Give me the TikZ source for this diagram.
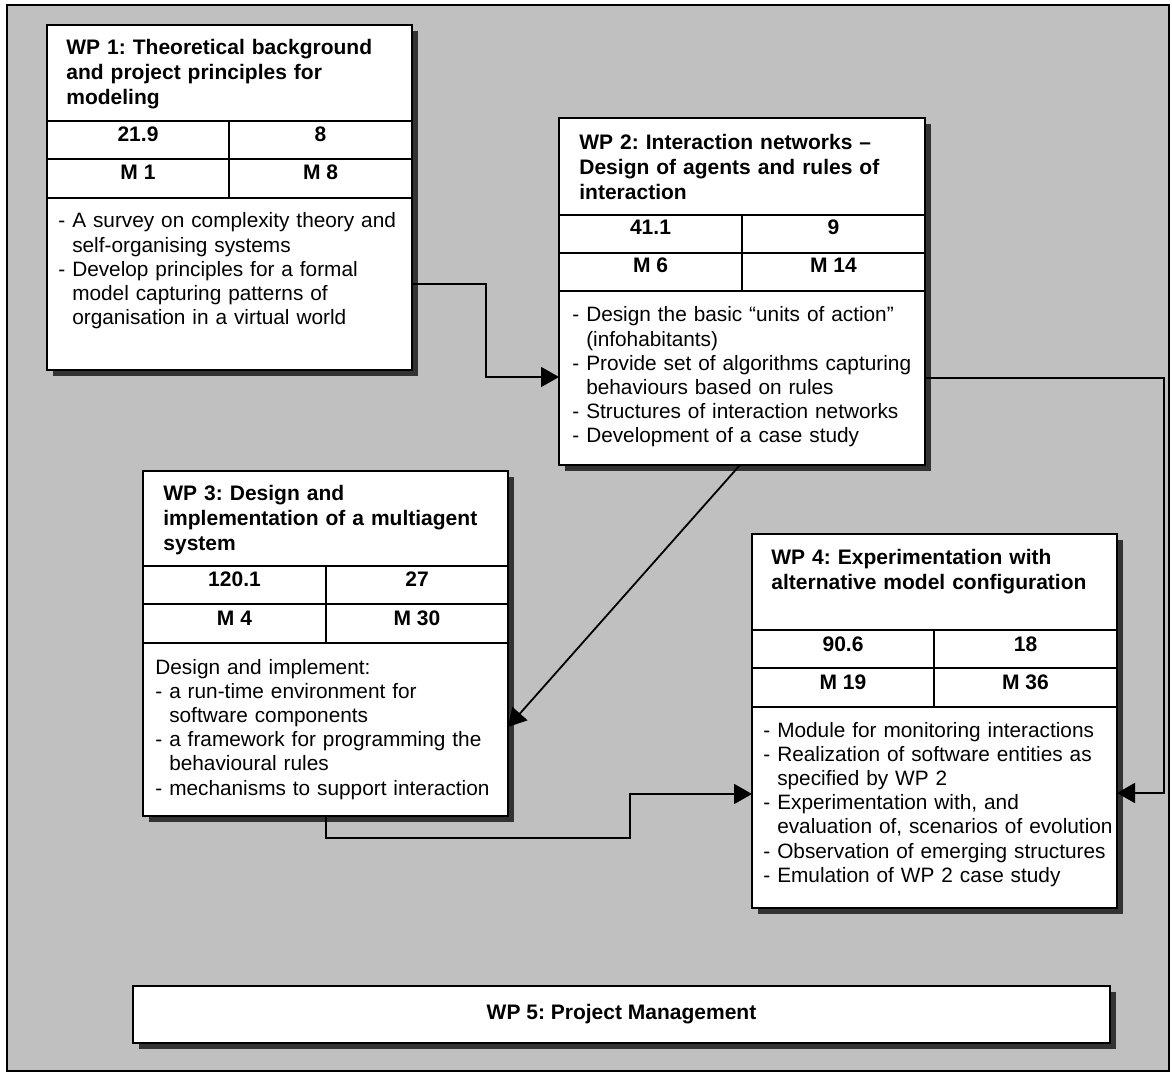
\documentclass[tikz,border=0pt]{standalone}
\usepackage{fontspec}
\setmainfont{Liberation Sans}
\usetikzlibrary{arrows.meta,shadows}
\newcommand\hang{\hphantom{- }}
\definecolor{panelgray}{HTML}{C0C0C0}
\frenchspacing
\begin{document}
\begin{tikzpicture}[x=0.5pt,y=-0.5pt,
  wpbox/.style={draw=black, line width=1pt, fill=white, inner sep=0pt, outer sep=0pt,
    anchor=north west,
    drop shadow={shadow xshift=3pt, shadow yshift=-3pt, fill=black!80, opacity=1}},
  rule/.style={line width=1pt},
  titletext/.style={anchor=base west, inner sep=0pt, text width=185pt, align=left,
    font=\fontsize{10.5pt}{12.4pt}\selectfont\bfseries},
  bodytext/.style={anchor=base west, inner sep=0pt, text width=185pt, align=left,
    font=\fontsize{10.4pt}{12.1pt}\selectfont},
  celltext/.style={anchor=base, inner sep=0pt, font=\fontsize{10.5pt}{12pt}\selectfont\bfseries},
  conn/.style={line width=0.9pt},
  flow/.style={conn, -{Triangle[length=9pt,width=10pt]}}
]
% page and panel
\fill[white] (0,0) rectangle (1172,1074);
\useasboundingbox (0,0) rectangle (1172,1074);
\draw[line width=1pt, fill=panelgray] (7,5) rectangle (1169,1071);

% ---------- WP 1 ----------
\node[wpbox, minimum width=182.5pt, minimum height=172.5pt] (wp1) at (47,25) {};
\draw[rule] (wp1.west |- 0,121) -- (wp1.east |- 0,121)
            (wp1.west |- 0,159) -- (wp1.east |- 0,159)
            (wp1.west |- 0,198) -- (wp1.east |- 0,198)
            (229,121) -- (229,198);
\node[titletext] (wp1t) at (66,55) {WP 1: Theoretical background\\and project principles for\\modeling};
\node[celltext] (wp1a) at (138,142) {21.9};
\node[celltext] (wp1b) at (320.5,142) {8};
\node[celltext] (wp1c) at (138,180) {M 1};
\node[celltext] (wp1d) at (320.5,180) {M 8};
\node[bodytext] (wp1x) at (58,228) {- A survey on complexity theory and\\\hang self-organising systems\\- Develop principles for a formal\\\hang model capturing patterns of\\\hang organisation in a virtual world};

% ---------- WP 2 ----------
\node[wpbox, minimum width=183pt, minimum height=173.5pt] (wp2) at (559,118) {};
\draw[rule] (wp2.west |- 0,215) -- (wp2.east |- 0,215)
            (wp2.west |- 0,253) -- (wp2.east |- 0,253)
            (wp2.west |- 0,291) -- (wp2.east |- 0,291)
            (742,215) -- (742,291);
\node[titletext] (wp2t) at (579,150) {WP 2: Interaction networks –\\Design of agents and rules of\\interaction};
\node[celltext] (wp2a) at (650.5,235) {41.1};
\node[celltext] (wp2b) at (833.5,235) {9};
\node[celltext] (wp2c) at (650.5,273) {M 6};
\node[celltext] (wp2d) at (833.5,273) {M 14};
\node[bodytext] (wp2x) at (572,322) {- Design the basic “units of action”\\\hang (infohabitants)\\- Provide set of algorithms capturing\\\hang behaviours based on rules\\- Structures of interaction networks\\- Development of a case study};

% ---------- WP 3 ----------
\node[wpbox, minimum width=182.5pt, minimum height=172.5pt] (wp3) at (143,471) {};
\draw[rule] (wp3.west |- 0,566) -- (wp3.east |- 0,566)
            (wp3.west |- 0,604) -- (wp3.east |- 0,604)
            (wp3.west |- 0,643) -- (wp3.east |- 0,643)
            (326,566) -- (326,643);
\node[titletext] (wp3t) at (163,501) {WP 3: Design and\\implementation of a multiagent\\system};
\node[celltext] (wp3a) at (234.5,587) {120.1};
\node[celltext] (wp3b) at (417,587) {27};
\node[celltext] (wp3c) at (234.5,625) {M 4};
\node[celltext] (wp3d) at (417,625) {M 30};
\node[bodytext] (wp3x) at (155,674) {Design and implement:\\- a run-time environment for\\\hang software components\\- a framework for programming the\\\hang behavioural rules\\- mechanisms to support interaction};

% ---------- WP 4 ----------
\node[wpbox, minimum width=182.5pt, minimum height=187pt] (wp4) at (752,534) {};
\draw[rule] (wp4.west |- 0,630) -- (wp4.east |- 0,630)
            (wp4.west |- 0,668) -- (wp4.east |- 0,668)
            (wp4.west |- 0,707) -- (wp4.east |- 0,707)
            (934,630) -- (934,707);
\node[titletext] (wp4t) at (771,565) {WP 4: Experimentation with\\alternative model configuration};
\node[celltext] (wp4a) at (843,651) {90.6};
\node[celltext] (wp4b) at (1025.5,651) {18};
\node[celltext] (wp4c) at (843,689) {M 19};
\node[celltext] (wp4d) at (1025.5,689) {M 36};
\node[bodytext] (wp4x) at (763,737) {- Module for monitoring interactions\\- Realization of software entities as\\\hang specified by WP 2\\- Experimentation with, and\\\hang evaluation of, scenarios of evolution\\- Observation of emerging structures\\- Emulation of WP 2 case study};

% ---------- WP 5 ----------
\node[wpbox, minimum width=488.5pt, minimum height=28.5pt,
      font=\fontsize{10.5pt}{12pt}\selectfont\bfseries] (wp5) at (133,986) {WP 5: Project Management};

% ---------- dependencies ----------
\coordinate (k1) at (486,284);
\coordinate (k2) at (486,377);
\draw[flow] (k1 -| wp1.east) -- (k1) -- (k2) -- (k2 -| wp2.west);

\coordinate (k3) at (1164,378);
\coordinate (k4) at (1164,793);
\draw[flow] (k3 -| wp2.east) -- (k3) -- (k4) -- (k4 -| wp4.east);

\coordinate (d1) at (740,465);
\coordinate (d2) at (508,727);
\draw[flow] (d1 |- wp2.south) -- (d2 -| wp3.east);

\coordinate (k5) at (326,838);
\coordinate (k6) at (630,838);
\coordinate (k7) at (630,794);
\draw[flow] (k5 |- wp3.south) -- (k5) -- (k6) -- (k7) -- (k7 -| wp4.west);
\end{tikzpicture}
\end{document}
